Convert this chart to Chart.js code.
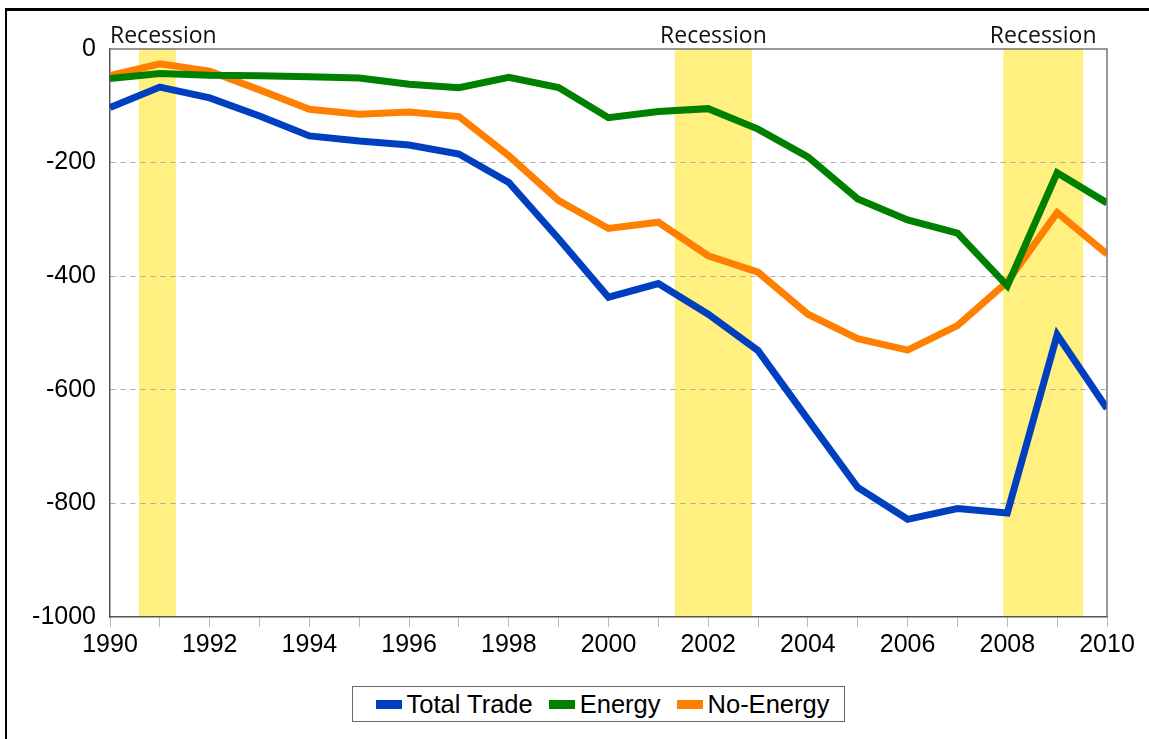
<!DOCTYPE html>
<html>
<head>
<meta charset="utf-8">
<script src="https://cdn.jsdelivr.net/npm/chart.js@4"></script>
<style>
    html, body { margin: 0; padding: 0; background: #fff; overflow: hidden; }
    #wrap { position: relative; width: 1149px; height: 739px; }
    #frame { position: absolute; left: 5px; top: 8px; width: 1200px; height: 800px;
             border-top: 3px solid #000; border-left: 2px solid #000; }
    #chart { position: absolute; left: 0; top: 0; }
    #legend { position: absolute; left: 352px; top: 686px; width: 491px; height: 34px;
              border: 1px solid #666; background: #fff; display: flex; align-items: center;
              justify-content: center; font-family: "Liberation Sans", Arial, sans-serif;
              font-size: 25.5px; color: #000; }
    .item { display: flex; align-items: center; margin: 0 8px; }
    .item:first-child { margin-left: 16px; }
    .swatch { width: 26px; height: 9px; margin-right: 5px; }
</style>
</head>
<body>
<div id="wrap">
    <div id="frame"></div>
    <canvas id="chart" width="1149" height="739"></canvas>
    <div id="legend"></div>
</div>
<script>
const YEARS = [1990, 1991, 1992, 1993, 1994, 1995, 1996, 1997, 1998, 1999, 2000,
               2001, 2002, 2003, 2004, 2005, 2006, 2007, 2008, 2009, 2010];
const TOTAL_TRADE = [-103, -67, -86, -118, -153, -162, -169, -185, -235, -334, -437,
                     -413, -467, -531, -652, -772, -828, -809, -817, -503, -633];
const ENERGY = [-52, -43, -46, -47, -49, -51, -62, -68, -50, -68, -121,
                -110, -105, -141, -190, -264, -301, -324, -417, -218, -271];
const NO_ENERGY = [-47, -26, -39, -72, -106, -115, -111, -119, -188, -267, -316,
                   -305, -364, -393, -467, -510, -530, -487, -410, -288, -361];
const SERIES_NAMES = ['Total Trade', 'Energy', 'No-Energy'];
const SERIES_COLORS = ['#0040C0', '#008000', '#FF8000'];
const RECESSION_START = [1990.58, 2001.33, 2007.92];
const RECESSION_END = [1991.32, 2002.88, 2009.52];
const RECESSION_LABEL = 'Recession';
const Y_TICKS = [0, -200, -400, -600, -800, -1000];

const BAND_COLOR = '#FFF080';
const TICK_FONT = {family: '"Liberation Sans", Arial, sans-serif', size: 25};

const recessionPlugin = {
    id: 'recessions',
    beforeDraw(chart) {
        const {ctx, chartArea, scales} = chart;
        ctx.save();
        ctx.fillStyle = BAND_COLOR;
        for (let i = 0; i < RECESSION_START.length; i++) {
            const x1 = scales.x.getPixelForValue(RECESSION_START[i]);
            const x2 = scales.x.getPixelForValue(RECESSION_END[i]);
            ctx.fillRect(x1, chartArea.top, x2 - x1, chartArea.bottom - chartArea.top);
        }
        ctx.restore();
    },
    afterDraw(chart) {
        const {ctx, chartArea, scales} = chart;
        ctx.save();
        // top and right edge of the plot box
        ctx.strokeStyle = '#777';
        ctx.lineWidth = 1.5;
        ctx.beginPath();
        ctx.moveTo(chartArea.left, chartArea.top);
        ctx.lineTo(chartArea.right, chartArea.top);
        ctx.lineTo(chartArea.right, chartArea.bottom);
        ctx.stroke();

        ctx.font = '23px "Open Sans", sans-serif';
        ctx.fillStyle = '#111';
        ctx.textBaseline = 'alphabetic';
        const w = ctx.measureText(RECESSION_LABEL).width;
        for (let i = 0; i < RECESSION_START.length; i++) {
            const x1 = scales.x.getPixelForValue(RECESSION_START[i]);
            const x2 = scales.x.getPixelForValue(RECESSION_END[i]);
            let left = (x1 + x2) / 2 - w / 2;
            if (left < chartArea.left) left = chartArea.left;
            if (left + w > chartArea.right) left = chartArea.right - w;
            ctx.fillText(RECESSION_LABEL, left, chartArea.top - 6);
        }
        ctx.restore();
    }
};

function toPoints(values) {
    return YEARS.map((y, i) => ({x: y, y: values[i]}));
}

const seriesValues = [TOTAL_TRADE, ENERGY, NO_ENERGY];

const datasets = seriesValues.map((values, i) => ({
    label: SERIES_NAMES[i],
    data: toPoints(values),
    borderColor: SERIES_COLORS[i],
    backgroundColor: SERIES_COLORS[i],
    borderWidth: 7,
    pointRadius: 0,
    tension: 0,
    fill: false,
}));

new Chart(document.getElementById('chart'), {
    type: 'line',
    data: {datasets: datasets},
    options: {
        responsive: false,
        animation: false,
        layout: {padding: {left: 0, top: 49, right: 42, bottom: 82}},
        plugins: {
            legend: {display: false},
            tooltip: {enabled: false},
        },
        scales: {
            x: {
                type: 'linear',
                min: YEARS[0],
                max: YEARS[YEARS.length - 1],
                afterFit(scale) { scale.height = 40; },
                afterBuildTicks(scale) {
                    scale.ticks = YEARS.map(v => ({value: v}));
                },
                ticks: {
                    autoSkip: false,
                    maxRotation: 0,
                    padding: 3,
                    color: '#000',
                    font: TICK_FONT,
                    callback: v => (v % 2 === 0 ? String(v) : ''),
                },
                grid: {
                    drawOnChartArea: false,
                    drawTicks: true,
                    tickLength: 10,
                    tickColor: '#bbb',
                },
                border: {color: '#555', width: 1.5},
            },
            y: {
                min: -1000,
                max: 0,
                afterFit(scale) { scale.width = 110; },
                afterBuildTicks(scale) {
                    scale.ticks = Y_TICKS.map(v => ({value: v}));
                },
                ticks: {
                    color: '#000',
                    font: TICK_FONT,
                    padding: 14,
                    callback: v => String(v),
                },
                grid: {
                    drawTicks: false,
                    color: ctx => (ctx.tick && (ctx.tick.value === 0 || ctx.tick.value === -1000)) ? 'rgba(0,0,0,0)' : '#aaa',
                    lineWidth: 1,
                },
                border: {color: '#555', width: 1.5, dash: [5, 5]},
            },
        },
    },
    plugins: [recessionPlugin],
});

// legend built from the same series
const legendEl = document.getElementById('legend');
SERIES_NAMES.forEach((name, i) => {
    const item = document.createElement('div');
    item.className = 'item';
    const sw = document.createElement('span');
    sw.className = 'swatch';
    sw.style.background = SERIES_COLORS[i];
    const label = document.createElement('span');
    label.textContent = name;
    item.appendChild(sw);
    item.appendChild(label);
    legendEl.appendChild(item);
});
</script>
</body>
</html>
